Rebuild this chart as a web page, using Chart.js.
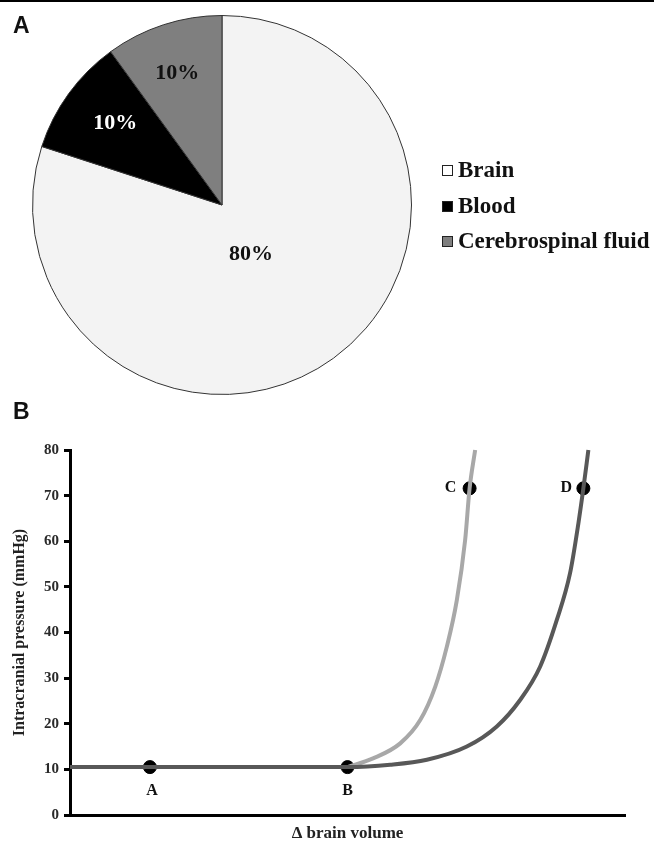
<!DOCTYPE html>
<html>
<head>
<meta charset="utf-8">
<script src="https://cdn.jsdelivr.net/npm/chart.js@4.4.1/dist/chart.umd.min.js"></script>
<style>
  html,body{margin:0;padding:0;background:#fff;}
  #wrap{position:relative;width:654px;height:844px;overflow:hidden;background:#fff;}
  #topline{position:absolute;left:0;top:0;width:654px;height:2px;background:#000;}
  .panel{position:absolute;font-family:'Liberation Sans',Arial,sans-serif;font-weight:bold;font-size:23px;color:#111;}
  #pieWrap{position:absolute;left:0;top:0;width:444px;height:410px;}
  #lineWrap{position:absolute;left:0;top:400px;width:654px;height:444px;}
  #legend{position:absolute;left:442px;top:157px;font-family:'Liberation Serif','Times New Roman',serif;font-weight:bold;font-size:23px;color:#111;}
  .li{height:35.5px;line-height:26px;white-space:nowrap;}
  .box{display:inline-block;width:9px;height:9px;border:1px solid #222;margin-right:5px;vertical-align:1px;}
</style>
</head>
<body>
<div id="wrap">
  <div id="topline"></div>
  <div id="pieWrap"><canvas id="pie"></canvas></div>
  <div id="lineWrap"><canvas id="line"></canvas></div>
  <div class="panel" style="left:13px;top:12px;">A</div>
  <div class="panel" style="left:13px;top:398px;">B</div>
  <div id="legend"></div>
</div>
<script>
// ---------- Data ----------
const pieLabels = ['Brain', 'Blood', 'Cerebrospinal fluid'];
const pieValues = [80, 10, 10];
const pieColors = ['#f3f3f3', '#000000', '#7f7f7f'];

const lightX = [50, 54.6, 59.5, 63.1, 65.8, 67.9, 69.7, 71.2, 72.0, 73.0];
const lightY = [10.5, 12.4, 15.7, 20.8, 28.1, 36.9, 47.1, 60.3, 71.6, 80];

const darkX = [0, 50, 57.7, 64.3, 71.5, 76.9, 81.1, 84.7, 87.7, 90.1, 91.6, 92.5, 93.4];
const darkY = [10.5, 10.5, 11.0, 12.1, 15.0, 19.4, 25.2, 32.5, 42.7, 53.0, 63.9, 71.6, 80];

const markerLabels = ['A', 'B', 'C', 'D'];
const markerX = [14.4, 50, 72.0, 92.5];
const markerY = [10.5, 10.5, 71.6, 71.6];

const yTickValues = [0, 10, 20, 30, 40, 50, 60, 70, 80];

const serif = "'Liberation Serif','Times New Roman',serif";

// ---------- Legend (HTML text) ----------
const legend = document.getElementById('legend');
pieLabels.forEach((l, i) => {
  const d = document.createElement('div');
  d.className = 'li';
  const b = document.createElement('span');
  b.className = 'box';
  b.style.background = i === 0 ? '#ffffff' : pieColors[i];
  d.appendChild(b);
  d.appendChild(document.createTextNode(l));
  legend.appendChild(d);
});

// ---------- Pie ----------
const pieLabelPlugin = {
  id: 'pieLabelPlugin',
  afterDatasetsDraw(chart, args, opts) {
    const ctx = chart.ctx;
    const meta = chart.getDatasetMeta(0);
    ctx.save();
    ctx.font = 'bold 22px ' + serif;
    ctx.textAlign = 'center';
    ctx.textBaseline = 'middle';
    meta.data.forEach((el, i) => {
      const p = el.getProps(['x', 'y', 'startAngle', 'endAngle', 'outerRadius'], true);
      const a = p.startAngle + (p.endAngle - p.startAngle) * opts.angleFrac[i];
      const r = p.outerRadius * opts.radiusFrac[i];
      ctx.fillStyle = opts.colors[i];
      ctx.fillText(pieValues[i] + '%', p.x + Math.cos(a) * r, p.y + Math.sin(a) * r);
    });
    ctx.restore();
  }
};

new Chart(document.getElementById('pie'), {
  type: 'pie',
  data: {
    labels: pieLabels,
    datasets: [{
      data: pieValues,
      backgroundColor: pieColors,
      borderColor: '#333',
      borderWidth: 1
    }]
  },
  options: {
    responsive: true,
    maintainAspectRatio: false,
    animation: false,
    layout: { padding: { top: 15, bottom: 15, left: 0, right: 0 } },
    plugins: {
      legend: { display: false },
      tooltip: { enabled: false },
      pieLabelPlugin: {
        angleFrac: [0.519, 0.54, 0.48],
        radiusFrac: [0.30, 0.71, 0.734],
        colors: ['#111', '#fff', '#111']
      }
    }
  },
  plugins: [pieLabelPlugin]
});

// ---------- Line ----------
const markerLabelPlugin = {
  id: 'markerLabelPlugin',
  afterDatasetsDraw(chart, args, opts) {
    const ctx = chart.ctx;
    const meta = chart.getDatasetMeta(2);
    ctx.save();
    ctx.font = 'bold 16px ' + serif;
    ctx.fillStyle = '#111';
    ctx.textAlign = 'center';
    ctx.textBaseline = 'middle';
    meta.data.forEach((el, i) => {
      const o = opts.offsets[i];
      ctx.fillText(markerLabels[i], el.x + o[0], el.y + o[1]);
    });
    ctx.restore();
  }
};

const toXY = (xs, ys) => xs.map((x, i) => ({ x: x, y: ys[i] }));

new Chart(document.getElementById('line'), {
  type: 'line',
  data: {
    datasets: [
      {
        data: toXY(darkX, darkY),
        borderColor: '#585858',
        borderWidth: 4,
        pointRadius: 0,
        cubicInterpolationMode: 'monotone',
        fill: false,
        clip: false
      },
      {
        data: toXY(lightX, lightY),
        borderColor: '#a8a8a8',
        borderWidth: 4,
        pointRadius: 0,
        cubicInterpolationMode: 'monotone',
        fill: false,
        clip: false
      },
      {
        type: 'scatter',
        data: toXY(markerX, markerY),
        pointRadius: 6.5,
        pointBackgroundColor: '#000',
        pointBorderColor: '#000',
        showLine: false,
        clip: false
      }
    ]
  },
  options: {
    responsive: true,
    maintainAspectRatio: false,
    animation: false,
    layout: { padding: { left: 0, top: 50, right: 29, bottom: 0 } },
    plugins: {
      legend: { display: false },
      tooltip: { enabled: false },
      markerLabelPlugin: {
        offsets: [[2, 24], [0, 24], [-19, 0], [-17, 0]]
      }
    },
    scales: {
      x: {
        type: 'linear',
        min: 0,
        max: 100,
        ticks: { display: false },
        grid: { display: false },
        border: { display: true, width: 3, color: '#000' },
        title: {
          display: true,
          text: 'Δ brain volume',
          font: { family: serif, weight: 'bold', size: 17 },
          color: '#222',
          padding: { top: 0, bottom: 0 }
        },
        afterFit(s) { s.height = 29; }
      },
      y: {
        type: 'linear',
        min: 0,
        max: 80,
        afterBuildTicks(s) { s.ticks = yTickValues.map(v => ({ value: v })); },
        ticks: {
          font: { family: serif, weight: 'bold', size: 15 },
          color: '#2a2a2a',
          padding: 5
        },
        grid: {
          display: true,
          drawOnChartArea: false,
          drawTicks: true,
          tickLength: 6,
          tickWidth: 3,
          tickColor: '#000'
        },
        border: { display: true, width: 3, color: '#000' },
        title: {
          display: true,
          text: 'Intracranial pressure (mmHg)',
          font: { family: serif, weight: 'bold', size: 16 },
          color: '#222',
          padding: { top: 10, bottom: 0 }
        },
        afterFit(s) { s.width = 70; }
      }
    }
  },
  plugins: [markerLabelPlugin]
});
</script>
</body>
</html>
